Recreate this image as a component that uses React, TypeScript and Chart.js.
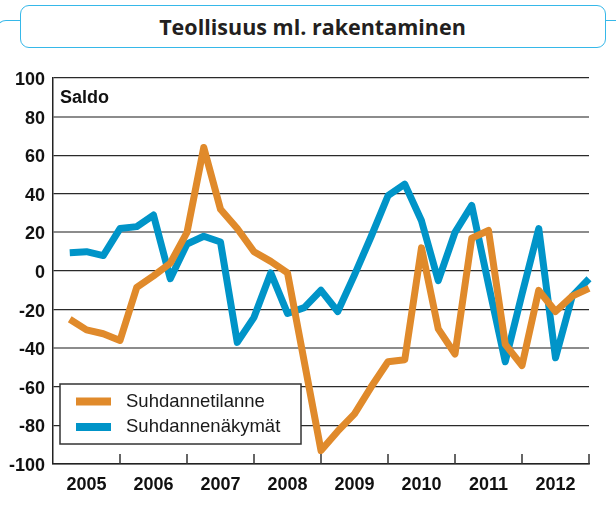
import React, { useEffect, useRef } from 'react';
import { Chart, registerables } from 'chart.js';

Chart.register(...registerables);

const titleText = 'Teollisuus ml. rakentaminen';
const unitLabel = 'Saldo';
const yearLabels = ['2005', '2006', '2007', '2008', '2009', '2010', '2011', '2012'];
const quarterLabels = [
  '2005Q1', '2005Q2', '2005Q3', '2005Q4', '2006Q1', '2006Q2', '2006Q3', '2006Q4',
  '2007Q1', '2007Q2', '2007Q3', '2007Q4', '2008Q1', '2008Q2', '2008Q3', '2008Q4',
  '2009Q1', '2009Q2', '2009Q3', '2009Q4', '2010Q1', '2010Q2', '2010Q3', '2010Q4',
  '2011Q1', '2011Q2', '2011Q3', '2011Q4', '2012Q1', '2012Q2', '2012Q3', '2012Q4',
];
const suhdannetilanne = [
  -25, -30.5, -32.5, -36, -8.5, -2.5, 4, 20,
  64, 32, 22, 10, 5, -1, -47, -93,
  -83, -74, -60, -47, -46, 12, -30, -43,
  17, 21, -38, -49, -10, -21, -13, -9,
];
const suhdannenakymat = [
  9.5, 10, 8, 22, 23, 29, -4, 14,
  18, 15, -37, -24, -1, -22, -19, -10,
  -21, -2, 18, 39, 45, 26, -5, 20,
  34, -7, -47, -12, 22, -45, -13, -4,
];
const seriesNames = ['Suhdannetilanne', 'Suhdannenäkymät'];
const seriesColors = ['#E08A2B', '#0094C8'];
const grayGridValues = [80, 20, -40];

const FONT = '"Liberation Sans", Arial, Helvetica, sans-serif';

const decorPlugin = {
  id: 'decor',
  afterDatasetsDraw(chart: any) {
    const { ctx, chartArea, scales } = chart;
    const xs = scales.x;
    ctx.save();
    // year boundary tick marks (inside the plot)
    ctx.strokeStyle = '#333';
    ctx.lineWidth = 1.5;
    for (let i = 1; i <= yearLabels.length; i++) {
      const px = xs.getPixelForValue(i * 4);
      ctx.beginPath();
      ctx.moveTo(px, chartArea.bottom - 10);
      ctx.lineTo(px, chartArea.bottom);
      ctx.stroke();
    }
    // unit label
    ctx.fillStyle = '#111';
    ctx.font = `bold 18px ${FONT}`;
    ctx.textBaseline = 'middle';
    ctx.textAlign = 'left';
    ctx.fillText(unitLabel, chartArea.left + 7, chartArea.top + 20);
    // legend
    const lx = chartArea.left + 7;
    const ly = 384;
    const lw = 241;
    const lh = 60;
    ctx.fillStyle = '#fff';
    ctx.fillRect(lx, ly, lw, lh);
    ctx.strokeStyle = '#333';
    ctx.lineWidth = 1.5;
    ctx.strokeRect(lx, ly, lw, lh);
    chart.data.datasets.forEach((ds: any, i: number) => {
      const cy = ly + 17.5 + i * 25.5;
      ctx.strokeStyle = ds.borderColor;
      ctx.lineWidth = 8;
      ctx.lineCap = 'butt';
      ctx.beginPath();
      ctx.moveTo(lx + 16, cy);
      ctx.lineTo(lx + 51, cy);
      ctx.stroke();
      ctx.fillStyle = '#1a1a1a';
      ctx.font = `18.5px ${FONT}`;
      ctx.textBaseline = 'middle';
      ctx.fillText(ds.label, lx + 66, cy);
    });
    ctx.restore();
  },
};

export default function App() {
  const canvasRef = useRef<HTMLCanvasElement | null>(null);

  useEffect(() => {
    const canvas = canvasRef.current;
    if (!canvas) return;
    const makeData = (vals: number[]) => vals.map((y, i) => ({ x: i + 1, y, q: quarterLabels[i] }));
    const chart = new Chart(canvas, {
      type: 'line',
      data: {
        datasets: [suhdannetilanne, suhdannenakymat].map((vals, i) => ({
          label: seriesNames[i],
          data: makeData(vals),
          borderColor: seriesColors[i],
          backgroundColor: seriesColors[i],
          borderWidth: 7,
          pointRadius: 0,
          tension: 0,
          borderJoinStyle: 'round',
          borderCapStyle: 'butt',
          fill: false,
          clip: false,
        })),
      },
      options: {
        responsive: false,
        animation: false,
        devicePixelRatio: 1,
        layout: { padding: { left: 0, right: 27, top: 78, bottom: 0 } },
        plugins: { legend: { display: false }, tooltip: { enabled: false }, title: { display: false } },
        scales: {
          x: {
            type: 'linear',
            min: 0,
            max: quarterLabels.length,
            afterFit: (s: any) => { s.height = 52; },
            afterBuildTicks: (s: any) => {
              s.ticks = yearLabels.map((_, i) => ({ value: i * 4 + 2 }));
            },
            ticks: {
              autoSkip: false,
              maxRotation: 0,
              padding: 10,
              color: '#111',
              font: { family: FONT, size: 18, weight: 'bold' },
              callback: (v: any) => yearLabels[Math.round((Number(v) - 2) / 4)] ?? '',
            },
            grid: { display: false, drawTicks: false },
            border: { display: true, color: '#222', width: 1.5 },
          },
          y: {
            min: -100,
            max: 100,
            afterFit: (s: any) => { s.width = 53; },
            ticks: {
              stepSize: 20,
              padding: 8,
              labelOffset: 2,
              color: '#111',
              font: { family: FONT, size: 18, weight: 'bold' },
            },
            grid: {
              drawTicks: false,
              color: (c: any) => (grayGridValues.includes(c.tick?.value) ? '#8c8c8c' : '#2a2a2a'),
              lineWidth: (c: any) => (grayGridValues.includes(c.tick?.value) ? 2 : 1.2),
            },
            border: { display: true, color: '#222', width: 1.5 },
          },
        },
      },
      plugins: [decorPlugin],
    } as any);
    return () => chart.destroy();
  }, []);

  return (
    <div style={{ position: 'absolute', left: 0, top: 0, width: 616, height: 516, background: '#fff', overflow: 'hidden' }}>
      <div
        style={{
          position: 'absolute', left: -4, top: 19.5, width: 24, height: 20,
          borderTop: '1.5px solid #36B8E9', borderLeft: '1.5px solid #36B8E9',
          borderTopLeftRadius: 10, boxSizing: 'border-box',
        }}
      />
      <div style={{ position: 'absolute', left: 605, top: 19.5, width: 11, height: 0, borderTop: '1.5px solid #36B8E9' }} />
      <div
        style={{
          position: 'absolute', left: 19.5, top: 4.5, width: 586, height: 43.5,
          boxSizing: 'border-box', border: '1.5px solid #36B8E9', borderRadius: 9,
          display: 'flex', alignItems: 'center', justifyContent: 'center',
          font: '700 21.5px "Open Sans", Lato, sans-serif', color: '#231f20', background: '#fff',
        }}
      >
        {titleText}
      </div>
      <canvas ref={canvasRef} width={616} height={516} style={{ position: 'absolute', left: 0, top: 0, display: 'block' }} />
    </div>
  );
}
